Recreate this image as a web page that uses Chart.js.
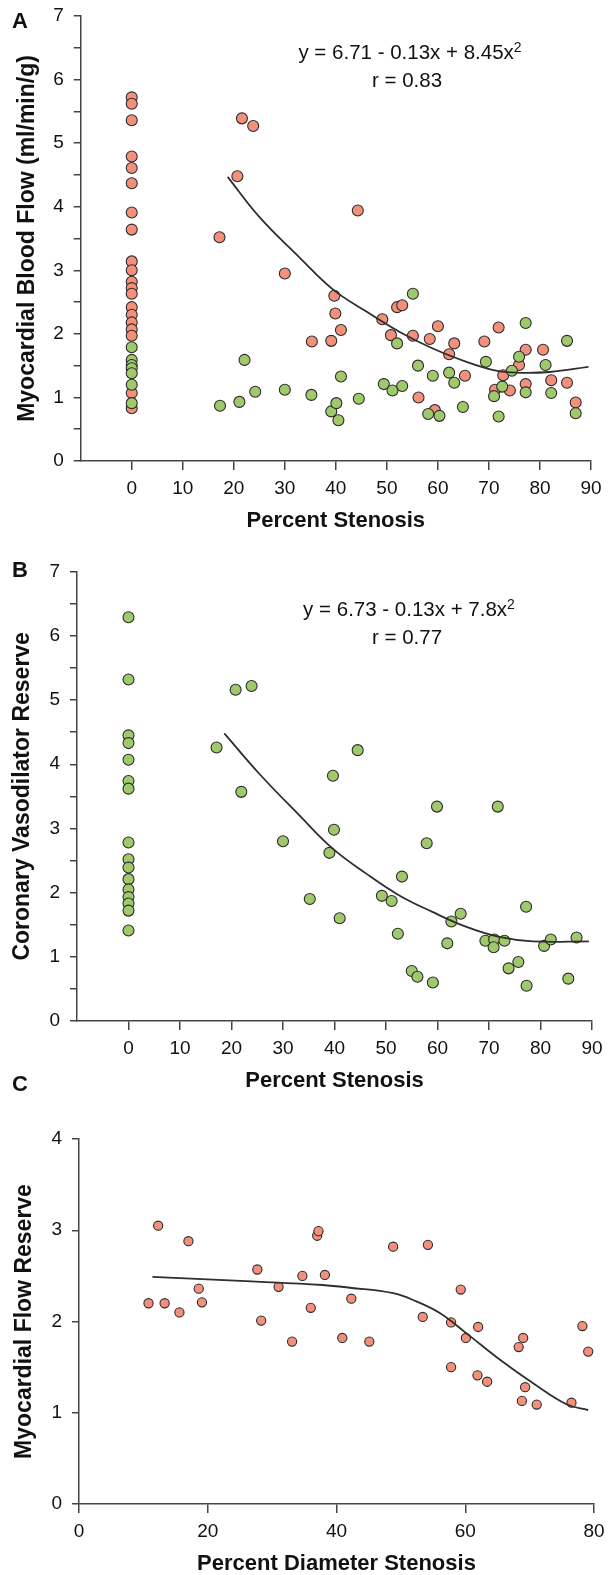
<!DOCTYPE html>
<html><head><meta charset="utf-8">
<script src="https://cdn.jsdelivr.net/npm/chart.js@4.4.1/dist/chart.umd.min.js"></script>
<style>
html,body{margin:0;padding:0;background:#fff;}
body{width:613px;height:1575px;position:relative;overflow:hidden;font-family:"Liberation Sans",Arial,Helvetica,sans-serif;color:#111;}
canvas{position:absolute;left:0;}
.lbl{position:absolute;left:12px;font-weight:bold;font-size:22px;line-height:1;}
.eq{position:absolute;font-size:20.5px;line-height:1;white-space:nowrap;transform:translate(-50%,-50%);}
.sup{font-size:0.68em;position:relative;top:-0.5em;}
</style></head><body>
<canvas id="cA" width="613" height="535" style="top:0px"></canvas>
<canvas id="cB" width="613" height="560" style="top:535px"></canvas>
<canvas id="cC" width="613" height="480" style="top:1095px"></canvas>
<div class="lbl" style="top:10px">A</div>
<div class="lbl" style="top:559px">B</div>
<div class="lbl" style="top:1073px">C</div>
<div class="eq" style="left:410px;top:52px">y = 6.71 - 0.13x + 8.45x<span class="sup">2</span></div>
<div class="eq" style="left:407px;top:80px">r = 0.83</div>
<div class="eq" style="left:409px;top:609px">y = 6.73 - 0.13x + 7.8x<span class="sup">2</span></div>
<div class="eq" style="left:407px;top:637px">r = 0.77</div>
<script>
// ---------- Panel A: Myocardial blood flow vs percent stenosis ----------
const flowRedX = [0,0,0,0,0,0,0,0,0,0,0,0,0,0,0,0,0,0,0,0,
  17.2,20.7,21.6,23.8,30.0,35.3,39.1,39.7,39.9,41.0,44.3,
  49.1,50.8,52.0,53.0,55.1,56.2,58.4,59.4,60.0,62.2,
  63.2,65.3,69.1,71.2,71.9,72.8,74.1,75.9,77.2,77.2,
  80.6,82.2,85.3,87.0];
const flowRedY = [5.72,5.62,5.36,4.79,4.61,4.37,3.91,3.64,3.14,3.00,2.82,2.72,2.63,2.42,2.30,2.18,2.07,1.97,1.07,0.83,
  3.52,4.48,5.39,5.27,2.95,1.88,1.89,2.60,2.32,2.06,3.94,
  2.23,1.98,2.42,2.45,1.97,1.00,1.92,0.80,2.12,1.68,
  1.85,1.34,1.88,1.12,2.10,1.35,1.11,1.51,1.75,1.21,
  1.75,1.27,1.23,0.92];
const flowGreenX = [0,0,0,0,0,0,0,
  17.3,21.1,22.1,24.2,30.0,35.2,39.1,40.1,40.5,41.0,44.5,
  49.4,51.1,52.0,53.0,55.1,56.1,58.1,59.0,60.3,62.2,
  63.2,64.9,69.4,71.0,71.9,72.6,74.5,75.9,77.2,77.2,
  81.1,82.2,85.3,87.0];
const flowGreenY = [1.79,1.59,1.51,1.46,1.38,1.20,0.91,
  0.87,0.93,1.59,1.09,1.12,1.04,0.78,0.91,0.64,1.33,0.98,
  1.21,1.11,1.85,1.18,2.63,1.50,0.74,1.34,0.71,1.39,
  1.23,0.85,1.56,1.02,0.70,1.17,1.42,1.64,2.17,1.08,
  1.51,1.07,1.89,0.75];
const flowFitX = [18.8,25.0,32.9,39.4,46.0,52.5,59.0,65.6,70.9,75.4,81.9,89.5];
const flowFitY = [4.47,3.84,3.20,2.70,2.35,2.03,1.77,1.56,1.43,1.39,1.40,1.48];

// ---------- Panel B: Coronary vasodilator reserve vs percent stenosis ----------
const reserveX = [0,0,0,0,0,0,0,0,0,0,0,0,0,0,0,0,
  17.1,20.8,23.9,21.9,30.0,39.7,39.9,39.0,35.2,41.0,44.5,
  59.9,71.7,57.9,53.1,49.2,51.1,52.3,64.5,62.7,61.9,
  55.0,56.1,59.1,69.3,71.0,70.9,73.0,73.8,75.7,77.2,
  77.3,80.7,82.0,85.4,87.0];
const reserveY = [6.29,5.32,4.45,4.33,4.07,3.74,3.62,2.78,2.52,2.39,2.21,2.05,1.93,1.83,1.72,1.41,
  4.26,5.16,5.22,3.57,2.80,3.82,2.98,2.62,1.90,1.60,4.22,
  3.34,3.34,2.77,2.25,1.95,1.87,1.36,1.67,1.55,1.21,
  0.78,0.69,0.60,1.25,1.27,1.15,1.25,0.82,0.92,1.78,
  0.55,1.17,1.27,0.66,1.30];
const reserveFitX = [18.6,25.3,33.1,39.6,46.1,52.5,59.0,65.5,72.0,78.5,89.4];
const reserveFitY = [4.48,3.86,3.21,2.69,2.30,1.96,1.70,1.47,1.31,1.24,1.24];

// ---------- Panel C: Myocardial flow reserve vs percent diameter stenosis ----------
const mfrX = [12.3,17.0,10.8,13.3,15.6,18.6,19.1,27.7,28.3,31.0,
  33.1,34.7,36.0,37.0,37.2,38.2,42.3,40.9,45.1,48.8,
  54.2,53.4,59.3,57.8,60.1,62.0,57.8,61.9,63.4,69.0,
  68.3,69.3,68.8,71.1,76.5,78.2,79.1];
const mfrY = [3.05,2.88,2.20,2.20,2.10,2.36,2.21,2.57,2.01,2.38,
  1.78,2.50,2.15,2.94,2.99,2.51,2.25,1.82,1.78,2.82,
  2.84,2.05,2.35,1.99,1.82,1.94,1.50,1.41,1.34,1.82,
  1.72,1.28,1.13,1.09,1.11,1.95,1.67];
const mfrFitX = [11.4,26.8,37.8,42.1,48.8,52.4,56.1,60.2,65.4,70.6,75.8,79.1];
const mfrFitY = [2.49,2.44,2.40,2.37,2.31,2.22,2.09,1.87,1.58,1.32,1.09,1.03];

// axis ticks
const xTicksStenosis = {min:-10, max:90, step:10};
const yTicksFlow = {min:0, max:7, step:0.5};
const xTicksDiam = {min:0, max:80, step:20};
const yTicksMfr = {min:0, max:4, step:1};

const RED = '#f3907b', GREEN = '#a0c96b', EDGE = '#2b2b2b', AXIS = '#444', TXT = '#111';
const FAMILY = '"Liberation Sans", Arial, Helvetica, sans-serif';

function pts(xs, ys){ return xs.map((x,i)=>({x:x, y:ys[i]})); }

function build(id, g){
  const H = g.h;
  const datasets = [];
  datasets.push({type:'line', data:pts(g.fitX, g.fitY), showLine:true, pointRadius:0,
    borderColor:'#2e2e2e', borderWidth:1.8, tension:0.4, fill:false});
  g.series.forEach(s => datasets.push({type:'scatter', data:pts(s.x, s.y), pointRadius:g.r,
    pointBackgroundColor:s.color, pointBorderColor:EDGE, pointBorderWidth:1.1, showLine:false}));
  new Chart(document.getElementById(id), {
    type:'scatter',
    data:{datasets},
    options:{
      responsive:false, animation:false, devicePixelRatio:1,
      layout:{padding:{left:0, top:g.top, right:613-g.right, bottom:0}},
      plugins:{legend:{display:false}, tooltip:{enabled:false}},
      scales:{
        x:{type:'linear', min:g.xt.min, max:g.xt.max,
          afterFit:s=>{ s.height = H - g.bottom; s.paddingLeft=0; s.paddingRight=0; },
          ticks:{stepSize:g.xt.step, autoSkip:false, maxRotation:0, padding:7, color:TXT,
            font:{family:FAMILY, size:19}, callback:v=> v<0 ? '' : v},
          grid:{drawOnChartArea:false, drawTicks:true, tickLength:9, lineWidth:1.5,
            color:c=> (c.tick && c.tick.value<0) ? 'rgba(0,0,0,0)' : AXIS},
          border:{display:true, color:AXIS, width:1.5},
          title:{display:true, text:g.xTitle, color:TXT, padding:{top:0,bottom:g.xtp},
            font:{family:FAMILY, size:22, weight:'bold', lineHeight:1}}
        },
        y:{type:'linear', min:g.yt.min, max:g.yt.max,
          afterFit:s=>{ s.width = g.left; s.paddingTop=0; s.paddingBottom=0; },
          ticks:{stepSize:g.yt.step, autoSkip:false, padding:10, color:TXT,
            font:{family:FAMILY, size:19}, callback:v=> Number.isInteger(v) ? v : ''},
          grid:{drawOnChartArea:false, drawTicks:true, tickLength:7, lineWidth:1.5, color:AXIS},
          border:{display:true, color:AXIS, width:1.5},
          title:{display:true, text:g.yTitle, color:TXT, padding:{top:g.ytp,bottom:0},
            font:{family:FAMILY, size:23, weight:'bold', lineHeight:1}}
        }
      }
    }
  });
}

build('cA', {h:535, top:16, bottom:461, left:80.7, right:591, r:5.5,
  xt:xTicksStenosis, yt:yTicksFlow, xTitle:'Percent Stenosis', yTitle:'Myocardial Blood Flow (ml/min/g)',
  xtp:3, ytp:16.5, fitX:flowFitX, fitY:flowFitY,
  series:[{x:flowGreenX, y:flowGreenY, color:GREEN},{x:flowRedX, y:flowRedY, color:RED}]});
build('cB', {h:560, top:36.7, bottom:486, left:77, right:592, r:5.5,
  xt:xTicksStenosis, yt:yTicksFlow, xTitle:'Percent Stenosis', yTitle:'Coronary Vasodilator Reserve',
  xtp:3, ytp:11.5, fitX:reserveFitX, fitY:reserveFitY,
  series:[{x:reserveX, y:reserveY, color:GREEN}]});
build('cC', {h:480, top:44, bottom:409, left:79, right:594, r:4.6,
  xt:xTicksDiam, yt:yTicksMfr, xTitle:'Percent Diameter Stenosis', yTitle:'Myocardial Flow Reserve',
  xtp:0, ytp:13.5, fitX:mfrFitX, fitY:mfrFitY,
  series:[{x:mfrX, y:mfrY, color:RED}]});
</script>
</body></html>
